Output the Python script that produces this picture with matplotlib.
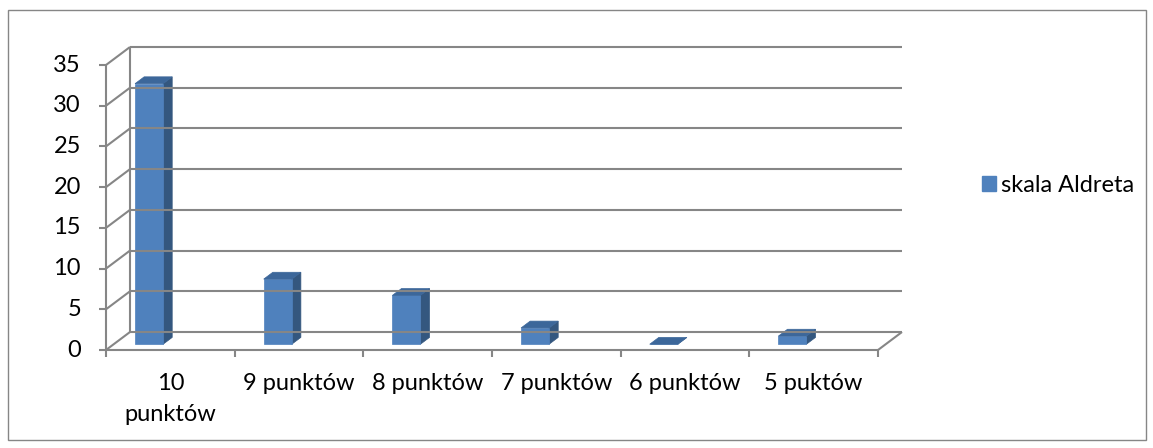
import matplotlib.pyplot as plt
from matplotlib.patches import Polygon, Rectangle, Patch

# Data
categories = ['10\npunktów', '9 punktów', '8 punktów', '7 punktów', '6 punktów', '5 puktów']
values = [32, 8, 6, 2, 0, 1]
series_name = 'skala Aldreta'
y_ticks = [0, 5, 10, 15, 20, 25, 30, 35]

W, H = 1153, 448
FONT = 'Lato'
FS = 17
GRID = '#868686'
FRONT = '#4F81BD'
SIDE = '#34577F'
TOP = '#3C679A'

fig = plt.figure(figsize=(W / 100, H / 100), dpi=100)
fig.patch.set_facecolor('white')

# front plane of the plot box, in pixels
x_left, x_right = 106, 878
y_zero, y_top = 350, 65
ax = fig.add_axes((x_left / W, (H - y_zero) / H, (x_right - x_left) / W, (y_zero - y_top) / H))
ax.set_xlim(0, len(categories))
ax.set_ylim(0, 35)
ax.axis('off')

# oblique depth: back wall sits 24px right and 18px up from the front plane
px_x = (x_right - x_left) / len(categories)
px_y = (y_zero - y_top) / 35
DX = 24 / px_x
DY = 18 / px_y


def proj(x, y, d):
    return (x + DX * d, y + DY * d)


def line(p, q, **kw):
    ax.plot([p[0], q[0]], [p[1], q[1]], color=GRID, lw=1.5, clip_on=False,
            solid_capstyle='butt', **kw)


n = len(categories)
# walls and gridlines
for v in y_ticks:
    line(proj(0, v, 1), proj(n, v, 1))
    line(proj(0, v, 0), proj(0, v, 1))
    line(proj(-7 / px_x, v, 0), proj(0, v, 0))
line(proj(0, 0, 1), proj(0, 35, 1))
line(proj(0, 0, 0), proj(0, 35, 0))
line(proj(0, 0, 0), proj(n, 0, 0))
line(proj(n, 0, 0), proj(n, 0, 1))
for i in range(n + 1):
    line(proj(i, 0, 0), proj(i, -7 / px_y, 0))

# 3D columns
d0, d1 = 0.32, 0.70
for i, v in enumerate(values):
    x0, x1 = i + 0.166, i + 0.384
    front = [proj(x0, 0, d0), proj(x1, 0, d0), proj(x1, v, d0), proj(x0, v, d0)]
    side = [proj(x1, 0, d0), proj(x1, 0, d1), proj(x1, v, d1), proj(x1, v, d0)]
    top = [proj(x0, v, d0), proj(x1, v, d0), proj(x1, v, d1), proj(x0, v, d1)]
    for pts, c in ((side, SIDE), (front, FRONT), (top, TOP)):
        ax.add_patch(Polygon(pts, closed=True, facecolor=c, edgecolor=c, lw=0.5,
                             clip_on=False))

# tick labels
for v in y_ticks:
    ax.text(-25 / px_x, v, str(v), ha='right', va='center', fontsize=FS, family=FONT)
for i, lab in enumerate(categories):
    ax.text(i + 0.5, -23 / px_y, lab, ha='center', va='top', fontsize=FS, family=FONT,
            linespacing=1.6)

# legend
fig.legend(handles=[Patch(facecolor=FRONT, edgecolor=FRONT)], labels=[series_name],
           loc='center left', bbox_to_anchor=(970 / W, 1 - 185 / H), frameon=False,
           borderpad=0, handlelength=0.6, handleheight=0.6, handletextpad=0.2,
           prop={'family': FONT, 'size': FS})

# outer border
fig.add_artist(Rectangle((8 / W, 8 / H), 1138 / W, 430 / H, transform=fig.transFigure,
                         fill=False, edgecolor=GRID, lw=1))

fig.savefig('out.png', dpi=100)
